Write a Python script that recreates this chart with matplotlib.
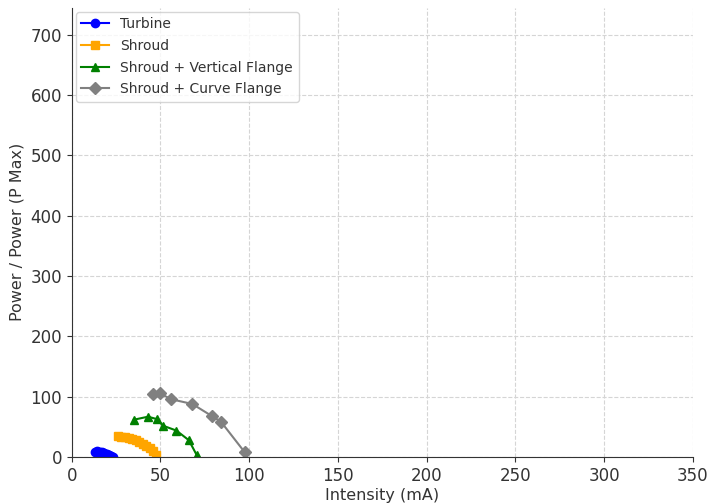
import matplotlib
matplotlib.use('Agg')
import matplotlib.pyplot as plt

# values
turbine_x = [13, 14, 15, 16, 17, 18, 19, 20, 21, 22, 23]
turbine_y = [9, 9.5, 9, 8.5, 8, 7, 6, 5, 4, 2.5, 1]

shroud_x = [26, 28, 30, 32, 34, 36, 38, 40, 42, 44, 46, 47.5]
shroud_y = [35, 34, 33, 32, 30, 28, 25, 22, 19, 15, 10, 3]

vertical_x = [35, 43, 48, 51.5, 59, 66, 70.5]
vertical_y = [62, 67, 63, 52, 44, 28, 3]

curve_x = [46, 49.5, 56, 68, 79, 84, 97.5]
curve_y = [104, 106, 96, 88, 68, 59, 8]


def main():
    fig, ax = plt.subplots(figsize=(7.1, 5.04), dpi=100)
    ax.plot(turbine_x, turbine_y, marker='o', color='blue', label='Turbine')
    ax.plot(shroud_x, shroud_y, marker='s', color='orange', label='Shroud')
    ax.plot(vertical_x, vertical_y, marker='^', color='green', label='Shroud + Vertical Flange')
    ax.plot(curve_x, curve_y, marker='D', color='gray', label='Shroud + Curve Flange')

    ax.set_xlim(0, 350)
    ax.set_ylim(0, 745)
    ax.set_xticks(range(0, 351, 50))
    ax.set_yticks(range(0, 701, 100))
    ax.set_xlabel('Intensity (mA)', fontsize=11.5, color='#333333', labelpad=2)
    ax.set_ylabel('Power / Power (P Max)', fontsize=11.5, color='#333333')
    ax.tick_params(labelsize=12, colors='#333333')
    ax.grid(True, linestyle='--', color='#d5d5d5', linewidth=0.8)
    ax.spines['top'].set_visible(False)
    ax.spines['right'].set_visible(False)
    ax.spines['left'].set_color('#333333')
    ax.spines['bottom'].set_color('#333333')
    ax.legend(loc='upper left', fontsize=10, borderaxespad=0.3, labelspacing=0.55,
              labelcolor='#333333')

    fig.subplots_adjust(left=0.101, right=0.976, top=0.985, bottom=0.093)
    fig.savefig('out.png', dpi=100)


if __name__ == '__main__':
    main()
